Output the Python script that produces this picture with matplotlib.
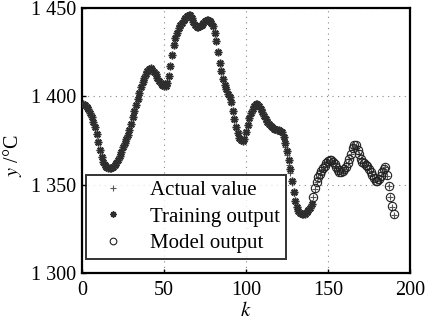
import matplotlib
matplotlib.use("Agg")
import matplotlib.pyplot as plt
from matplotlib.ticker import FuncFormatter

plt.rcParams['font.family'] = ['Liberation Serif', 'DejaVu Serif']
plt.rcParams['mathtext.fontset'] = 'stix'

# Measured temperature (k = 1..190)
actual = [
    1395.5, 1395.0, 1394.0, 1392.5, 1390.5, 1388.0, 1385.5, 1382.5, 1378.5, 1374.0,
    1369.5, 1365.5, 1362.5, 1361.0, 1360.0, 1359.5, 1359.3, 1359.5, 1360.0, 1360.8,
    1362.0, 1363.8, 1366.0, 1368.5, 1371.0, 1373.3, 1375.5, 1378.0, 1381.0, 1384.5,
    1388.0, 1391.5, 1395.0, 1398.5, 1402.0, 1405.0, 1408.0, 1410.5, 1412.5, 1414.0,
    1415.3, 1415.7, 1415.0, 1413.8, 1412.3, 1410.5, 1408.8, 1407.3, 1406.2, 1405.6,
    1405.7, 1407.5, 1411.5, 1417.0, 1423.5, 1429.0, 1433.0, 1436.0, 1438.3, 1440.0,
    1441.5, 1443.0, 1444.3, 1445.5, 1446.2, 1445.8, 1444.2, 1442.0, 1440.3, 1439.3,
    1439.0, 1439.5, 1440.5, 1441.5, 1442.5, 1443.0, 1443.0, 1442.5, 1441.3, 1439.5,
    1436.0, 1431.0, 1425.0, 1419.0, 1414.0, 1410.0, 1406.5, 1404.0, 1401.5, 1399.5,
    1396.5, 1391.5, 1387.0, 1382.5, 1379.0, 1376.5, 1375.0, 1374.5, 1376.0, 1379.5,
    1383.5, 1387.5, 1390.5, 1393.0, 1394.7, 1395.5, 1395.5, 1394.5, 1392.8, 1390.8,
    1388.8, 1387.0, 1385.3, 1384.0, 1383.0, 1382.3, 1381.7, 1381.3, 1381.0, 1380.8,
    1380.4, 1379.5, 1376.5, 1371.5, 1366.5, 1361.0, 1356.5, 1351.0, 1345.0, 1340.5,
    1337.0, 1335.0, 1334.0, 1333.5, 1333.3, 1333.5, 1334.2, 1335.3, 1336.8, 1339.0,
    1343.0, 1347.5, 1351.5, 1354.0, 1356.0, 1357.5, 1359.0, 1360.5, 1362.0, 1363.3,
    1364.0, 1364.0, 1363.0, 1361.5, 1359.8, 1358.3, 1357.3, 1357.0, 1357.5, 1358.5,
    1360.0, 1362.0, 1364.5, 1367.5, 1370.5, 1372.3, 1372.0, 1369.8, 1367.0, 1364.5,
    1363.0, 1362.0, 1361.3, 1360.5, 1359.0, 1357.3, 1355.5, 1353.5, 1352.0, 1351.8,
    1353.0, 1355.0, 1357.0, 1358.8, 1359.8, 1355.0, 1349.0, 1343.0, 1337.5, 1333.0,
]

# Fitted output on the training samples (k = 1..140)
training = [
    1395.5, 1395.0, 1394.0, 1392.5, 1390.5, 1388.0, 1385.5, 1382.5, 1378.5, 1374.0,
    1369.5, 1365.5, 1362.5, 1361.0, 1360.0, 1359.5, 1359.3, 1359.5, 1360.0, 1360.8,
    1362.0, 1363.8, 1366.0, 1368.5, 1371.0, 1373.3, 1375.5, 1378.0, 1381.0, 1384.5,
    1388.0, 1391.5, 1395.0, 1398.5, 1402.0, 1405.0, 1408.0, 1410.5, 1412.5, 1414.0,
    1415.3, 1415.7, 1415.0, 1413.8, 1412.3, 1410.5, 1408.8, 1407.3, 1406.2, 1405.6,
    1405.7, 1407.5, 1411.5, 1417.0, 1423.5, 1429.0, 1433.0, 1436.0, 1438.3, 1440.0,
    1441.5, 1443.0, 1444.3, 1445.5, 1446.2, 1445.8, 1444.2, 1442.0, 1440.3, 1439.3,
    1439.0, 1439.5, 1440.5, 1441.5, 1442.5, 1443.0, 1443.0, 1442.5, 1441.3, 1439.5,
    1436.0, 1431.0, 1425.0, 1419.0, 1414.0, 1410.0, 1406.5, 1404.0, 1401.5, 1399.5,
    1396.5, 1391.5, 1387.0, 1382.5, 1379.0, 1376.5, 1375.0, 1374.5, 1376.0, 1379.5,
    1383.5, 1387.5, 1390.5, 1393.0, 1394.7, 1395.5, 1395.5, 1394.5, 1392.8, 1390.8,
    1388.8, 1387.0, 1385.3, 1384.0, 1383.0, 1382.3, 1381.7, 1381.3, 1381.0, 1380.8,
    1380.4, 1379.5, 1377.0, 1373.5, 1369.0, 1364.0, 1358.5, 1352.0, 1345.5, 1340.5,
    1337.0, 1335.0, 1334.0, 1333.5, 1333.3, 1333.5, 1334.2, 1335.3, 1336.8, 1339.0,
]

# Predicted output on the test samples (k = 141..190)
model = [
    1343.0, 1347.8, 1351.7, 1354.0, 1356.0, 1357.5, 1359.2, 1360.5, 1362.0, 1363.3,
    1364.0, 1364.0, 1363.0, 1361.5, 1359.8, 1358.3, 1357.3, 1357.0, 1357.5, 1358.5,
    1360.0, 1362.0, 1364.5, 1367.5, 1370.5, 1372.5, 1372.2, 1369.8, 1367.0, 1364.5,
    1363.0, 1362.0, 1361.3, 1360.5, 1359.0, 1357.3, 1355.5, 1353.5, 1352.0, 1351.8,
    1353.0, 1355.0, 1357.0, 1358.8, 1359.8, 1355.2, 1349.2, 1343.0, 1337.8, 1333.2,
]

k_actual = list(range(1, len(actual) + 1))
k_train = list(range(1, len(training) + 1))
k_model = list(range(len(training) + 1, len(training) + len(model) + 1))

x_ticks = [0, 50, 100, 150, 200]
y_ticks = [1300, 1350, 1400, 1450]

fig = plt.figure(figsize=(4.33, 3.26), dpi=100)
ax = fig.add_axes([0.189, 0.163, 0.758, 0.813])

ax.plot(k_actual, actual, linestyle='none', marker='+', markersize=5,
        markeredgewidth=0.8, color='#555555', label='Actual value', zorder=3)
ax.plot(k_train, training, linestyle='none', marker=(8, 2, 0), markersize=5.5,
        markeredgewidth=1.1, color='#2e2e2e', label='Training output', zorder=4)
ax.plot(k_model, model, linestyle='none', marker='o', markersize=6,
        markeredgewidth=0.8, markerfacecolor='none', markeredgecolor='#222222',
        label='Model output', zorder=5)

ax.set_xlim(0, 200)
ax.set_ylim(1300, 1450)
ax.set_xticks(x_ticks)
ax.set_yticks(y_ticks)
ax.yaxis.set_major_formatter(FuncFormatter(lambda v, p: f"{int(v):,}".replace(',', ' ')))
ax.tick_params(direction='in', length=3, width=1, labelsize=14.5, colors='black')
ax.tick_params(axis='x', pad=6)
ax.tick_params(axis='y', pad=4)
ax.grid(True, linestyle=(0, (1, 4)), color='#888888', linewidth=0.8)
for s in ax.spines.values():
    s.set_linewidth(1.6)

ax.set_xlabel('$k$', fontsize=15, labelpad=1)
ax.set_ylabel('$y$ /°C', fontsize=14.5)
ax.yaxis.set_label_coords(-0.175, 0.44)

leg = ax.legend(loc='lower left', bbox_to_anchor=(0.012, 0.053), fontsize=15,
                frameon=True, fancybox=False, edgecolor='black',
                borderpad=0.28, labelspacing=0.33, handletextpad=0.7,
                handlelength=2.1, borderaxespad=0.0, markerscale=0.8)
leg.get_frame().set_linewidth(1.4)

fig.savefig('out.png', dpi=100)
